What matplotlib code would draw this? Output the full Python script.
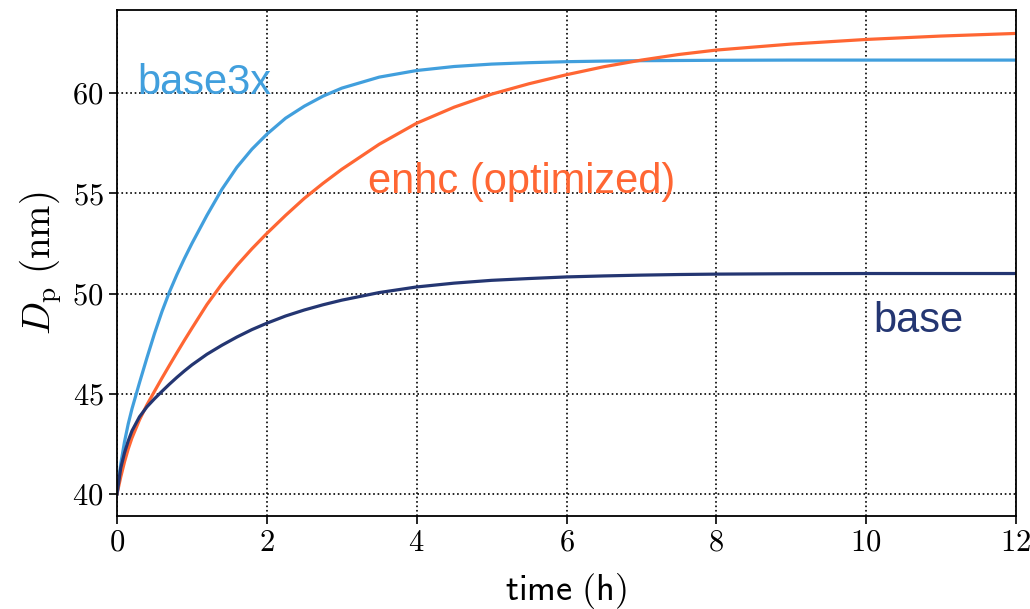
import matplotlib
matplotlib.use("Agg")
import matplotlib.pyplot as plt

# time axis (h) shared by all three series
time_h = [0, 0.05, 0.1, 0.15, 0.2, 0.3, 0.4, 0.5, 0.6, 0.7, 0.8, 0.9, 1.0, 1.2, 1.4,
          1.6, 1.8, 2.0, 2.25, 2.5, 2.75, 3.0, 3.5, 4.0, 4.5, 5.0, 5.5, 6.0, 6.5,
          7.0, 7.5, 8.0, 9.0, 10.0, 11.0, 12.0]

# particle diameter D_p (nm)
dp_base3x = [40.0, 41.5, 42.6, 43.5, 44.25, 45.55, 46.8, 48.0, 49.1, 50.08, 50.95,
             51.75, 52.5, 53.9, 55.2, 56.3, 57.2, 57.95, 58.75, 59.35, 59.85, 60.25,
             60.8, 61.13, 61.33, 61.45, 61.52, 61.57, 61.6, 61.62, 61.63, 61.64,
             61.65, 61.65, 61.65, 61.65]
dp_enhc = [40.0, 40.85, 41.6, 42.25, 42.8, 43.7, 44.45, 45.12, 45.78, 46.42, 47.05,
           47.67, 48.27, 49.45, 50.48, 51.4, 52.23, 53.0, 53.9, 54.75, 55.5, 56.2,
           57.45, 58.5, 59.3, 59.95, 60.47, 60.92, 61.32, 61.65, 61.93, 62.15,
           62.45, 62.68, 62.85, 62.98]
dp_base = [40.0, 41.3, 42.05, 42.65, 43.15, 43.85, 44.35, 44.75, 45.12, 45.48, 45.82,
           46.14, 46.44, 46.97, 47.42, 47.83, 48.2, 48.52, 48.88, 49.18, 49.44, 49.67,
           50.05, 50.33, 50.52, 50.66, 50.75, 50.83, 50.88, 50.92, 50.95, 50.97,
           50.99, 51.0, 51.0, 51.0]

x_ticks = [0, 2, 4, 6, 8, 10, 12]
y_ticks = [40, 45, 50, 55, 60]

c_base3x = "#419fdd"
c_enhc = "#ff6633"
c_base = "#243672"

plt.rcParams["mathtext.fontset"] = "cm"
plt.rcParams["font.family"] = "serif"
plt.rcParams["font.serif"] = ["cmr10", "DejaVu Serif"]
plt.rcParams["axes.formatter.use_mathtext"] = True

fig = plt.figure(figsize=(10.30, 6.09), dpi=100)
ax = fig.add_axes([0.1136, 0.1527, 0.8728, 0.8309])

ax.plot(time_h, dp_base3x, color=c_base3x, lw=2.3)
ax.plot(time_h, dp_enhc, color=c_enhc, lw=2.3)
ax.plot(time_h, dp_base, color=c_base, lw=2.3)

label_font = dict(family="Liberation Sans", fontsize=30)
ax.text(0.27, 59.95, "base3x", color=c_base3x, ha="left", va="baseline", **label_font)
ax.text(3.35, 55.0, "enhc (optimized)", color=c_enhc, ha="left", va="baseline", **label_font)
ax.text(10.1, 48.1, "base", color=c_base, ha="left", va="baseline", **label_font)

ax.set_xlim(0, 12)
ax.set_ylim(38.9, 64.15)
ax.set_xticks(x_ticks)
ax.set_yticks(y_ticks)
ax.set_xticklabels([f"${t}$" for t in x_ticks])
ax.set_yticklabels([f"${t}$" for t in y_ticks])
ax.tick_params(labelsize=22, length=6, width=1.2, direction="out")

ax.grid(True, color="black", linestyle=":", linewidth=1.2)
for sp in ax.spines.values():
    sp.set_linewidth(1.3)

ax.set_xlabel(r"$\mathsf{time\ (h)}$", fontsize=26, labelpad=10)
ax.set_ylabel(r"$D_\mathrm{p}\ (\mathrm{nm})$", fontsize=28, labelpad=6)

fig.savefig("out.png", dpi=100)
